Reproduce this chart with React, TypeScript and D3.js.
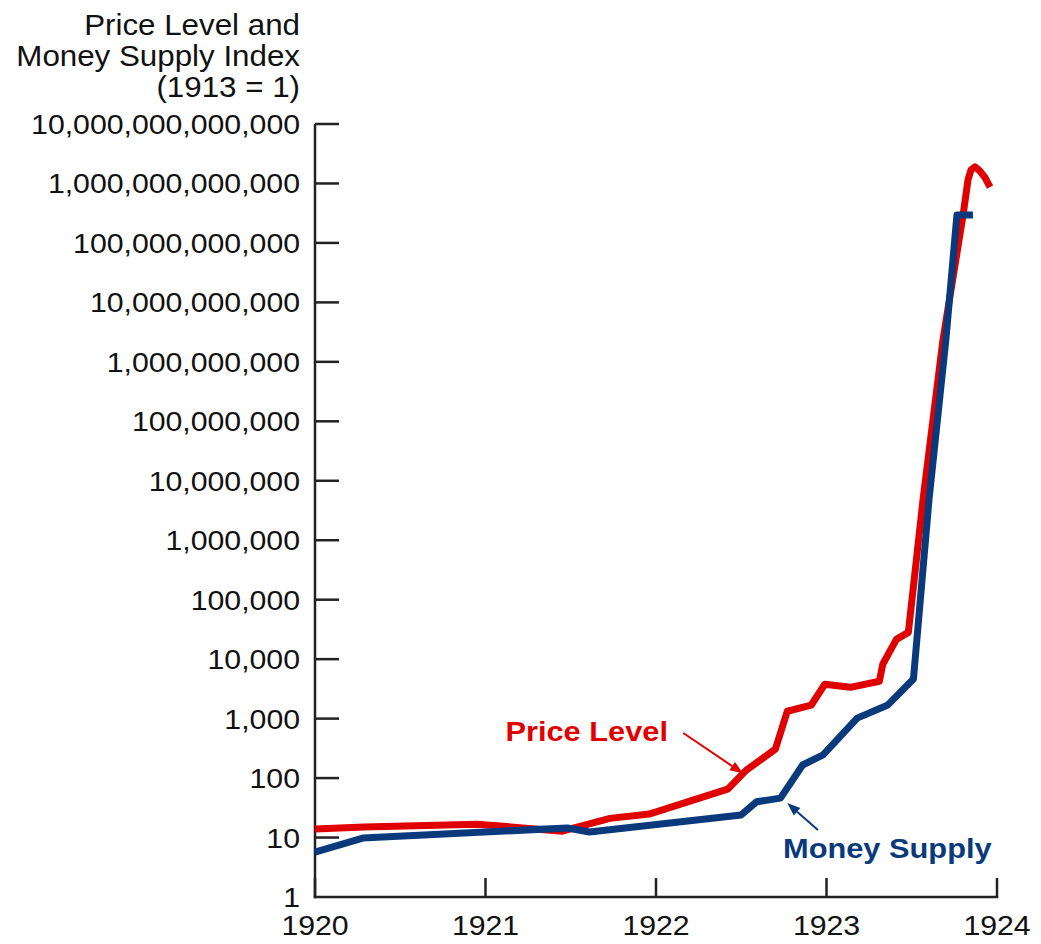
import React from "react";
import * as d3 from "d3";

const yearTicks = [1920, 1921, 1922, 1923, 1924];
const yTickValues = [1, 10, 100, 1e3, 1e4, 1e5, 1e6, 1e7, 1e8, 1e9, 1e10, 1e11, 1e12, 1e13];
const titleLines = ["Price Level and", "Money Supply Index", "(1913 = 1)"];

const priceT = [1920.0, 1920.29, 1920.95, 1921.45, 1921.73, 1921.96, 1922.42, 1922.53, 1922.7, 1922.77, 1922.91, 1922.99, 1923.14, 1923.31, 1923.33, 1923.41, 1923.48, 1923.566, 1923.683, 1923.801, 1923.818, 1923.83, 1923.848, 1923.871, 1923.9, 1923.93, 1923.959];
const priceV = [13.9, 15, 16.8, 12.8, 21, 24.8, 65, 136, 306, 1330, 1680, 3780, 3360, 4250, 8200, 21500, 28200, 4.75e6, 2.33e9, 2.95e11, 6.5e11, 1.15e12, 1.7e12, 1.9e12, 1.62e12, 1.25e12, 8.7e11];

const moneyT = [1920.0, 1920.28, 1921.48, 1921.61, 1922.5, 1922.59, 1922.73, 1922.86, 1922.98, 1923.18, 1923.36, 1923.51, 1923.601, 1923.7, 1923.765, 1923.859];
const moneyV = [5.7, 9.8, 14.5, 12.4, 24, 40, 46, 166, 245, 1020, 1700, 4650, 4.75e6, 2.33e9, 2.95e11, 2.95e11];

const RED = "#e10000";
const BLUE = "#0a3a7c";
const FONT = "'Liberation Sans', Arial, Helvetica, sans-serif";
const SX = 1.08;

const fmt = d3.format(",.0f");

export default function App() {
  const x = d3.scaleLinear().domain([1920, 1924]).range([315, 997]);
  const y = d3.scaleLog().domain([1, 1e13]).range([897, 124]);
  const line = d3
    .line<[number, number]>()
    .x((d) => x(d[0]))
    .y((d) => y(d[1]));
  const priceData: [number, number][] = priceT.map((t, i) => [t, priceV[i]]);
  const moneyData: [number, number][] = moneyT.map((t, i) => [t, moneyV[i]]);

  const arrow = (x1: number, y1: number, x2: number, y2: number, color: string) => {
    const ang = Math.atan2(y2 - y1, x2 - x1);
    const L = 13, W = 5;
    const bx = x2 - L * Math.cos(ang), by = y2 - L * Math.sin(ang);
    const p1 = [bx + W * Math.sin(ang), by - W * Math.cos(ang)];
    const p2 = [bx - W * Math.sin(ang), by + W * Math.cos(ang)];
    return (
      <g>
        <line x1={x1} y1={y1} x2={bx} y2={by} stroke={color} strokeWidth={2} />
        <path d={`M${x2},${y2}L${p1[0]},${p1[1]}L${p2[0]},${p2[1]}Z`} fill={color} />
      </g>
    );
  };

  return (
    <svg width={1041} height={944} style={{ position: "absolute", left: 0, top: 0 }} fontFamily={FONT}>
      <rect width={1041} height={944} fill="#fff" />
      {titleLines.map((s, i) => (
        <g key={s} transform={`translate(300,${35 + i * 31}) scale(${SX},1)`}>
          <text textAnchor="end" fontSize={29} fill="#111">{s}</text>
        </g>
      ))}
      {/* y axis */}
      <line x1={x(1920)} x2={x(1920)} y1={y(1e13)} y2={y(1) + 1.25} stroke="#222" strokeWidth={2.5} />
      {yTickValues.map((v) => (
        <g key={v}>
          {v !== 1 && <line x1={x(1920)} x2={x(1920) + 24} y1={y(v)} y2={y(v)} stroke="#222" strokeWidth={2.5} />}
          <g transform={`translate(300,${y(v) + 10}) scale(${SX},1)`}>
            <text textAnchor="end" fontSize={28} fill="#111">{fmt(v)}</text>
          </g>
        </g>
      ))}
      {/* x axis */}
      <line x1={x(1920) - 1.25} x2={x(1924) + 1.25} y1={y(1)} y2={y(1)} stroke="#222" strokeWidth={2.5} />
      {yearTicks.map((t) => (
        <g key={t}>
          <line x1={x(t)} x2={x(t)} y1={y(1)} y2={y(1) - 19} stroke="#222" strokeWidth={2.5} />
          <g transform={`translate(${x(t)},935) scale(${SX},1)`}>
            <text textAnchor="middle" fontSize={28} fill="#111">{t}</text>
          </g>
        </g>
      ))}
      <path d={line(priceData) || ""} fill="none" stroke={RED} strokeWidth={7} strokeLinejoin="round" />
      <path d={line(moneyData) || ""} fill="none" stroke={BLUE} strokeWidth={7} strokeLinejoin="round" />
      {arrow(x(1922.16), y(573), x(1922.51), y(120), RED)}
      {arrow(x(1922.95), y(13.4), x(1922.77), y(38), BLUE)}
      <g transform={`translate(${x(1922.07)},${y(420)}) scale(${SX},1)`}>
        <text textAnchor="end" fontSize={28.5} fontWeight="bold" fill={RED}>Price Level</text>
      </g>
      <g transform={`translate(${x(1922.745)},${y(4.5)}) scale(${SX},1)`}>
        <text textAnchor="start" fontSize={28.5} fontWeight="bold" fill={BLUE}>Money Supply</text>
      </g>
    </svg>
  );
}
